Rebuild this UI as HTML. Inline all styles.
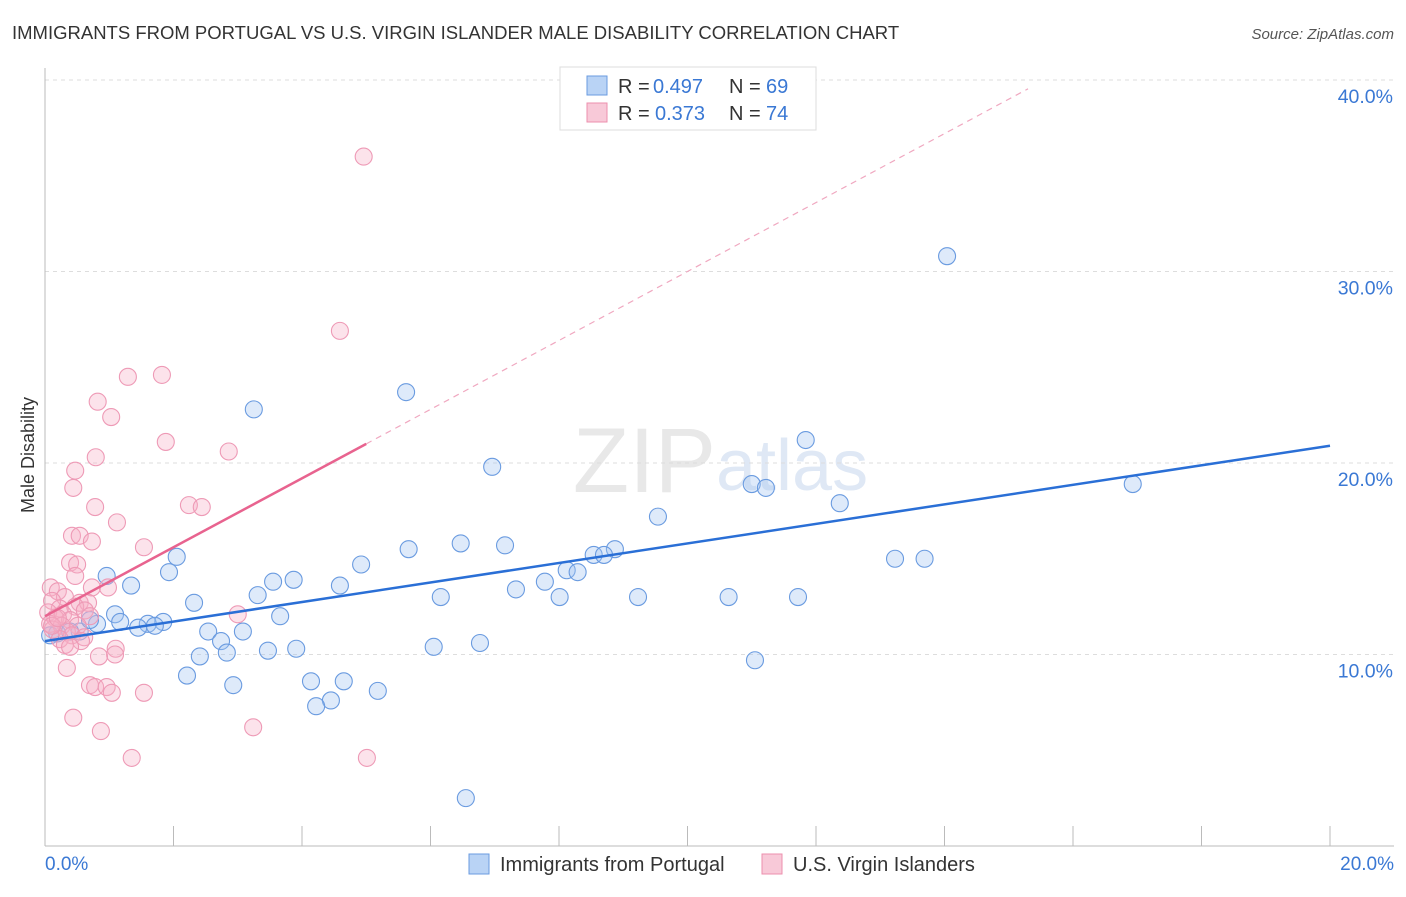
<!DOCTYPE html>
<html><head><meta charset="utf-8"><style>
body{margin:0;background:#fff;font-family:"Liberation Sans",sans-serif}
svg text{font-family:"Liberation Sans",sans-serif}
</style></head><body>
<svg width="1406" height="892">
<text x="12" y="39" font-size="18.5" fill="#333">IMMIGRANTS FROM PORTUGAL VS U.S. VIRGIN ISLANDER MALE DISABILITY CORRELATION CHART</text>
<text x="1394" y="39" font-size="15" fill="#555" font-style="italic" text-anchor="end">Source: ZipAtlas.com</text>
<text x="716" y="492" font-size="92" fill="#e8e8e8" font-family="Liberation Serif" text-anchor="end">ZIP</text>
<text x="716" y="490" font-size="72" fill="#dfe8f5">atlas</text>
<g id="grid"></g><g id="axes"></g><g id="pts"></g><g id="lines"></g>
<text transform="translate(34,455) rotate(-90)" font-size="18" fill="#333" text-anchor="middle">Male Disability</text>
<text x="45" y="870" font-size="19" fill="#3a78d4">0.0%</text>
<text x="1394" y="870" font-size="19" fill="#3a78d4" text-anchor="end">20.0%</text>
<g>
<rect x="560" y="67" width="256" height="63" fill="#fff" stroke="#ddd"/>
<rect x="587" y="76" width="20" height="19" fill="#b9d3f5" stroke="#6a9be0"/>
<rect x="587" y="103" width="20" height="19" fill="#f8c9d8" stroke="#ec8fae"/>
<text x="618" y="93" font-size="20" fill="#333">R = </text><text x="653" y="93" font-size="20" fill="#3a78d4">0.497</text>
<text x="729" y="93" font-size="20" fill="#333">N = </text><text x="766" y="93" font-size="20" fill="#3a78d4">69</text>
<text x="618" y="120" font-size="20" fill="#333">R = </text><text x="655" y="120" font-size="20" fill="#3a78d4">0.373</text>
<text x="729" y="120" font-size="20" fill="#333">N = </text><text x="766" y="120" font-size="20" fill="#3a78d4">74</text>
</g>
<g>
<rect x="469" y="854" width="20" height="20" fill="#b9d3f5" stroke="#6a9be0"/>
<text x="500" y="871" font-size="20" fill="#333">Immigrants from Portugal</text>
<rect x="762" y="854" width="20" height="20" fill="#f8c9d8" stroke="#ec8fae"/>
<text x="793" y="871" font-size="20" fill="#333">U.S. Virgin Islanders</text>
</g>
</svg>
<script>
const yTicks=[10,20,30,40];
const yTickLabels=["10.0%","20.0%","30.0%","40.0%"];
const xTicks=[2,4,6,8,10,12,14,16,18,20];
const blueX=[14.04,5.62,3.25,11.84,6.96,16.93,11.0,11.22,12.37,9.54,6.47,7.16,5.66,8.87,8.54,8.7,2.05,13.23,13.69,4.92,1.93,8.12,8.29,0.96,3.87,3.55,7.78,1.34,4.59,7.33,3.31,6.16,8.01,9.23,10.64,11.72,2.32,3.66,1.09,1.17,1.84,1.6,1.71,0.81,1.45,2.54,3.08,0.54,0.19,0.39,2.74,6.05,6.77,2.83,3.47,3.91,2.41,11.05,2.21,4.14,4.65,2.93,5.18,4.45,4.22,6.55,0.08,0.7];
const blueY=[30.8,23.7,22.8,21.2,19.8,18.9,18.9,18.7,17.9,17.2,15.8,15.7,15.5,15.5,15.2,15.2,15.1,15.0,15.0,14.7,14.3,14.4,14.3,14.1,13.9,13.8,13.8,13.6,13.6,13.4,13.1,13.0,13.0,13.0,13.0,13.0,12.7,12.0,12.1,11.7,11.7,11.6,11.5,11.6,11.4,11.2,11.2,11.2,11.1,11.2,10.7,10.4,10.6,10.1,10.2,10.3,9.9,9.7,8.9,8.6,8.6,8.4,8.1,7.6,7.3,2.5,11.0,11.8];
const pinkX=[4.96,4.59,1.29,1.82,0.82,1.03,1.88,2.86,0.79,0.47,0.44,2.24,2.44,0.78,1.12,0.42,0.54,0.73,1.54,0.39,0.5,0.47,0.09,0.2,0.73,0.98,0.31,0.54,0.67,0.11,0.47,0.23,0.62,0.05,0.28,3.0,0.16,0.39,0.7,0.08,0.26,0.51,0.12,0.34,0.42,0.61,0.23,0.56,0.31,0.39,1.1,1.09,0.84,0.34,0.7,0.78,0.96,1.04,1.54,0.44,0.87,3.24,1.35,5.01,0.11,0.2];
const pinkY=[36.0,26.9,24.5,24.6,23.2,22.4,21.1,20.6,20.3,19.6,18.7,17.8,17.7,17.7,16.9,16.2,16.2,15.9,15.6,14.8,14.7,14.1,13.5,13.3,13.5,13.5,13.0,12.7,12.7,12.8,12.5,12.4,12.3,12.2,12.1,12.1,11.9,11.8,12.0,11.6,11.5,11.5,11.3,11.2,11.0,10.9,10.8,10.7,10.5,10.4,10.3,10.0,9.9,9.3,8.4,8.3,8.3,8.0,8.0,6.7,6.0,6.2,4.6,4.6,11.5,11.9];
const blueTrend=[10.7,20.9];
const pinkTrend=[12.0,1.8];
const NS="http://www.w3.org/2000/svg";
const sx=v=>45+v*64.25, sy=v=>846-v*19.15;
function mk(p,t,a){const e=document.createElementNS(NS,t);for(const k in a)e.setAttribute(k,a[k]);p.appendChild(e);return e;}
const grid=document.getElementById('grid'),axes=document.getElementById('axes'),pts=document.getElementById('pts'),lines=document.getElementById('lines');
yTicks.forEach((t,i)=>{
 const l=mk(grid,'line',{x1:45,x2:1394,y1:sy(t),y2:sy(t),stroke:'#ddd','stroke-dasharray':'4,4'});
 
 
 const tx=mk(grid,'text',{x:1393,y:sy(t)+23,'font-size':19.5,fill:'#3a78d4','text-anchor':'end'});tx.textContent=yTickLabels[i];
 
 
});
const ax=mk(axes,'line',{x1:45,x2:45,y1:68,y2:846,stroke:'#bbb'});


const bx=mk(axes,'line',{x1:45,x2:1394,y1:846,y2:846,stroke:'#bbb'});


xTicks.forEach(t=>{const l=mk(axes,'line',{x1:sx(t),x2:sx(t),y1:826,y2:846,stroke:'#bbb'});
 
 });
blueX.forEach((x,i)=>{const c=mk(pts,'circle',{cx:sx(x),cy:sy(blueY[i]),r:8.5,fill:'rgba(160,196,240,0.35)',stroke:'#6a9be0','stroke-width':1.1});
 
 });
pinkX.forEach((x,i)=>{const c=mk(pts,'circle',{cx:sx(x),cy:sy(pinkY[i]),r:8.5,fill:'rgba(245,175,198,0.35)',stroke:'#ee9ab6','stroke-width':1.1});
 
 });
const bl=mk(lines,'line',{x1:sx(0),y1:sy(blueTrend[0]),x2:sx(20),y2:sy(blueTrend[1]),stroke:'#2a6fd6','stroke-width':2.5});


const pl=mk(lines,'line',{x1:sx(0),y1:sy(pinkTrend[0]),x2:sx(5),y2:sy(pinkTrend[0]+5*pinkTrend[1]),stroke:'#e8638f','stroke-width':2.5});


const pd=mk(lines,'line',{x1:sx(5),y1:sy(pinkTrend[0]+5*pinkTrend[1]),x2:sx(15.3),y2:sy(pinkTrend[0]+15.3*pinkTrend[1]),stroke:'#f0a8c0','stroke-width':1.2,'stroke-dasharray':'6,5'});


</script>
</body></html>
